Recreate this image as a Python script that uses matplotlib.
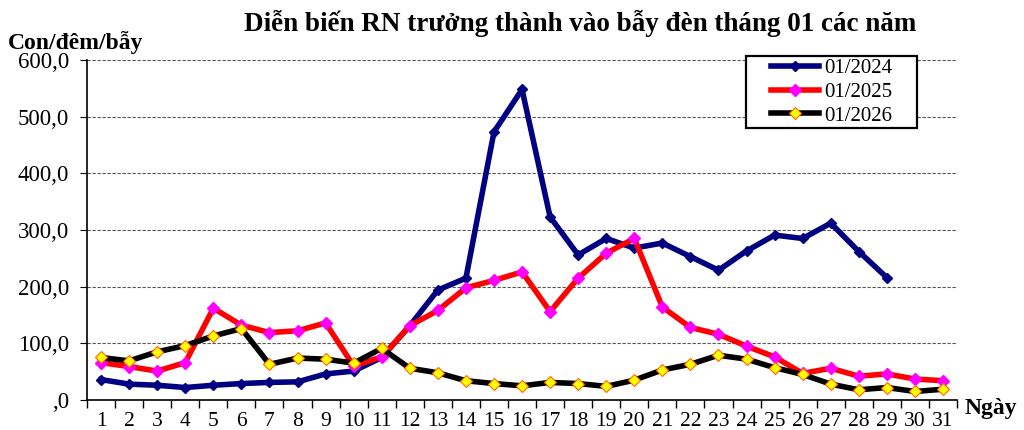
import matplotlib
matplotlib.use("Agg")
import matplotlib.pyplot as plt
from matplotlib.ticker import FuncFormatter, FixedLocator
from matplotlib.patches import Rectangle

days = list(range(1, 32))
day_labels = [str(d) for d in days]

y2024 = [36, 28, 26, 22, 26, 29, 31, 32, 46, 51, 75, 131, 194, 215, 473, 548,
         323, 256, 285, 268, 277, 253, 229, 263, 291, 285, 312, 262, 216]
y2025 = [66, 59, 51, 66, 162, 132, 119, 122, 136, 60, 76, 131, 158, 198, 211, 226,
         156, 215, 259, 285, 164, 128, 116, 95, 76, 47, 56, 42, 46, 37, 34]
y2026 = [75, 69, 85, 96, 113, 126, 63, 74, 72, 65, 91, 56, 48, 34, 29, 25,
         31, 29, 24, 35, 53, 63, 79, 72, 57, 45, 28, 18, 22, 15, 19]

series_names = ["01/2024", "01/2025", "01/2026"]

plt.rcParams['font.family'] = ['Liberation Serif', 'DejaVu Serif']

fig = plt.figure(figsize=(10.24, 4.30), dpi=100)
ax = fig.add_axes([0.085, 0.0698, 0.8496, 0.7907])

lw = 4.0
ax.plot(days[:len(y2024)], y2024, color='#000080', lw=lw, marker='D', ms=5,
        mfc='#000080', mec='#000080', label=series_names[0], zorder=3)
ax.plot(days, y2025, color='#ff0000', lw=lw, marker='D', ms=6.5,
        mfc='#ff00ff', mec='#ff00ff', label=series_names[1], zorder=4)
ax.plot(days, y2026, color='#000000', lw=lw, marker='D', ms=6.5,
        mfc='#ffff00', mec='#ff6600', mew=0.8, label=series_names[2], zorder=5)

ax.set_xlim(0.5, 31.5)
ax.set_ylim(0, 600)
ax.set_yticks(range(0, 601, 100))
ax.yaxis.set_major_formatter(FuncFormatter(lambda v, p: ",0" if v == 0 else f"{int(v)},0"))
ax.grid(axis='y', linestyle=(0, (3, 1.5)), color='#555555', lw=0.8)
ax.set_axisbelow(True)

ax.xaxis.set_major_locator(FixedLocator([d - 0.5 for d in days] + [31.5]))
ax.xaxis.set_major_formatter(FuncFormatter(lambda v, p: ""))
ax.set_xticks(days, minor=True)
ax.set_xticklabels(day_labels, minor=True)
ax.tick_params(axis='x', which='major', direction='out', length=6, width=1, color='black')
ax.tick_params(axis='x', which='minor', length=0, pad=9, labelsize=15.5)
ax.tick_params(axis='y', direction='out', length=5, width=0.8, labelsize=16.5, pad=8)

for s in ['top', 'right']:
    ax.spines[s].set_visible(False)
ax.spines['left'].set_linewidth(1.2)
ax.spines['bottom'].set_linewidth(1.2)

# legend box
box = Rectangle((0.7285, 0.7023), 0.167, 0.1674, transform=fig.transFigure,
                facecolor='white', edgecolor='black', lw=1.6, zorder=10)
fig.patches.append(box)
leg = fig.legend(loc='center', bbox_to_anchor=(0.812, 0.786),
                 bbox_transform=fig.transFigure, fontsize=15, frameon=False,
                 handlelength=2.3, handletextpad=0.25, borderpad=0.0,
                 labelspacing=0.2)
leg.set_zorder(11)

fig.text(0.567, 0.945, "Diễn biến RN trưởng thành vào bẫy đèn tháng 01 các năm",
         ha='center', va='center', fontsize=19.5, fontweight='bold')
fig.text(0.008, 0.902, "Con/đêm/bẫy", ha='left', va='center', fontsize=17, fontweight='bold')
fig.text(0.942, 0.05, "Ngày", ha='left', va='center', fontsize=17, fontweight='bold')

fig.savefig("out.png", dpi=100)
